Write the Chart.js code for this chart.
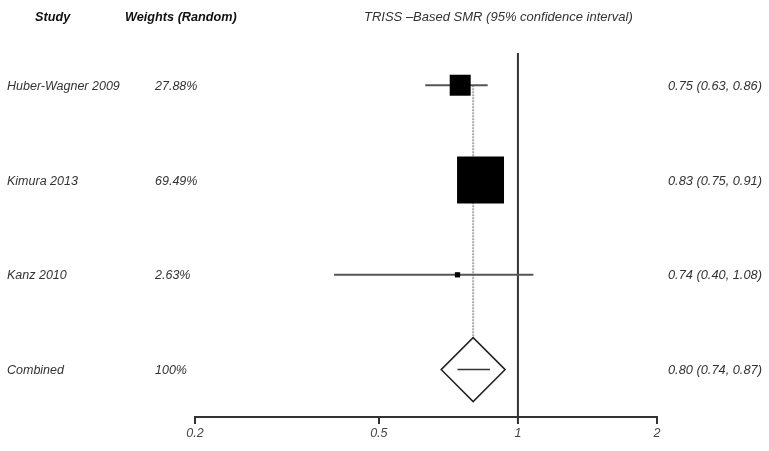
<!DOCTYPE html>
<html lang="en">
<head>
<meta charset="UTF-8">
<title>TRISS-Based SMR forest plot</title>
<script src="https://cdn.jsdelivr.net/npm/chart.js"></script>
<style>
    body { margin: 0; background: white; }
    #wrap { width: 769px; height: 451px; }
</style>
</head>
<body>
<div id="wrap"><canvas id="forest" width="769" height="451"></canvas></div>
<script>
// study rows
const studies = ['Huber-Wagner 2009', 'Kimura 2013', 'Kanz 2010'];
const weights = [27.88, 69.49, 2.63];
const smr = [0.75, 0.83, 0.74];
const lower = [0.63, 0.75, 0.40];
const upper = [0.86, 0.91, 1.08];

// pooled estimate
const combinedLabel = 'Combined';
const combinedWeight = 100;
const combinedSmr = 0.80;
const combinedLower = 0.74;
const combinedUpper = 0.87;

const xTicks = [0.2, 0.5, 1, 2];

const rows = studies.map((s, i) => i + 1);
const combinedRow = studies.length + 1;

// square size grows with weight (half side in px, converted to chart.js radius)
function boxRadius(w) {
    return (1.8 + 0.312 * w) / Math.SQRT1_2;
}

const datasets = [];

// study boxes
datasets.push({
    type: 'scatter',
    data: smr.map((v, i) => ({ x: v, y: rows[i] })),
    pointStyle: 'rect',
    pointRadius: weights.map(boxRadius),
    backgroundColor: '#000',
    borderColor: '#000',
    borderWidth: 0,
    order: 1
});

// combined diamond
datasets.push({
    type: 'scatter',
    data: [{ x: combinedSmr, y: combinedRow }],
    pointStyle: 'rectRot',
    pointRadius: 32,
    backgroundColor: '#fff',
    borderColor: '#222',
    borderWidth: 1.5,
    order: 1
});

// line inside diamond
datasets.push({
    type: 'line',
    data: [{ x: combinedLower, y: combinedRow }, { x: combinedUpper, y: combinedRow }],
    borderColor: '#333',
    borderWidth: 1.5,
    pointRadius: 0,
    order: 0
});

// confidence intervals
studies.forEach((s, i) => {
    datasets.push({
        type: 'line',
        data: [{ x: lower[i], y: rows[i] }, { x: upper[i], y: rows[i] }],
        borderColor: '#555',
        borderWidth: 2,
        pointRadius: 0,
        order: 2
    });
});

// dotted line at pooled estimate
datasets.push({
    type: 'line',
    data: [{ x: combinedSmr, y: 1 }, { x: combinedSmr, y: combinedRow }],
    borderColor: '#aaa',
    borderWidth: 2,
    borderDash: [2, 1],
    pointRadius: 0,
    order: 3
});

// line of no effect
datasets.push({
    type: 'line',
    data: [{ x: 1, y: 0.66 }, { x: 1, y: 4.57 }],
    borderColor: '#333',
    borderWidth: 2,
    pointRadius: 0,
    clip: false,
    order: 3
});

const textPlugin = {
    id: 'forestText',
    afterDraw(chart) {
        const ctx = chart.ctx;
        const y = chart.scales.y;
        ctx.save();
        ctx.textBaseline = 'middle';
        ctx.fillStyle = '#111';
        ctx.font = 'italic bold 12.7px "Liberation Sans", Arial, sans-serif';
        ctx.fillText('Study', 35, 17);
        ctx.fillText('Weights (Random)', 125, 17);
        ctx.font = 'italic 13px "Liberation Sans", Arial, sans-serif';
        ctx.fillStyle = '#333';
        ctx.fillText('TRISS \u2013Based SMR (95% confidence interval)', 364, 17);

        const labels = studies.concat([combinedLabel]);
        const ws = weights.concat([combinedWeight]);
        const est = smr.concat([combinedSmr]);
        const lo = lower.concat([combinedLower]);
        const hi = upper.concat([combinedUpper]);
        labels.forEach((lab, i) => {
            const py = y.getPixelForValue(i + 1) + 1;
            ctx.fillStyle = '#333';
            ctx.font = 'italic 12.5px "Liberation Sans", Arial, sans-serif';
            ctx.fillText(lab, 7, py);
            ctx.fillText(ws[i] + '%', 155, py);
            ctx.font = 'italic 12.8px "Liberation Sans", Arial, sans-serif';
            ctx.fillText(est[i].toFixed(2) + ' (' + lo[i].toFixed(2) + ', ' + hi[i].toFixed(2) + ')', 668, py);
        });
        ctx.restore();
    }
};

new Chart(document.getElementById('forest'), {
    type: 'scatter',
    data: { datasets: datasets },
    options: {
        responsive: false,
        animation: false,
        devicePixelRatio: 1,
        layout: { padding: { left: 195, right: 112, top: 53, bottom: 8 } },
        plugins: { legend: { display: false }, tooltip: { enabled: false } },
        scales: {
            x: {
                type: 'logarithmic',
                min: 0.2,
                max: 2,
                afterBuildTicks: (scale) => {
                    scale.ticks = xTicks.map(v => ({ value: v }));
                },
                grid: { drawOnChartArea: false, drawTicks: true, tickLength: 7, color: '#333', lineWidth: 2 },
                border: { display: true, color: '#333', width: 2 },
                ticks: {
                    color: '#444',
                    padding: 2,
                    maxRotation: 0,
                    autoSkip: false,
                    font: { family: '"Liberation Sans", Arial, sans-serif', size: 12.5, style: 'italic' },
                    callback: (v) => String(v)
                }
            },
            y: {
                type: 'linear',
                display: false,
                reverse: true,
                min: 0.66,
                max: 4.5
            }
        }
    },
    plugins: [textPlugin]
});
</script>
</body>
</html>
